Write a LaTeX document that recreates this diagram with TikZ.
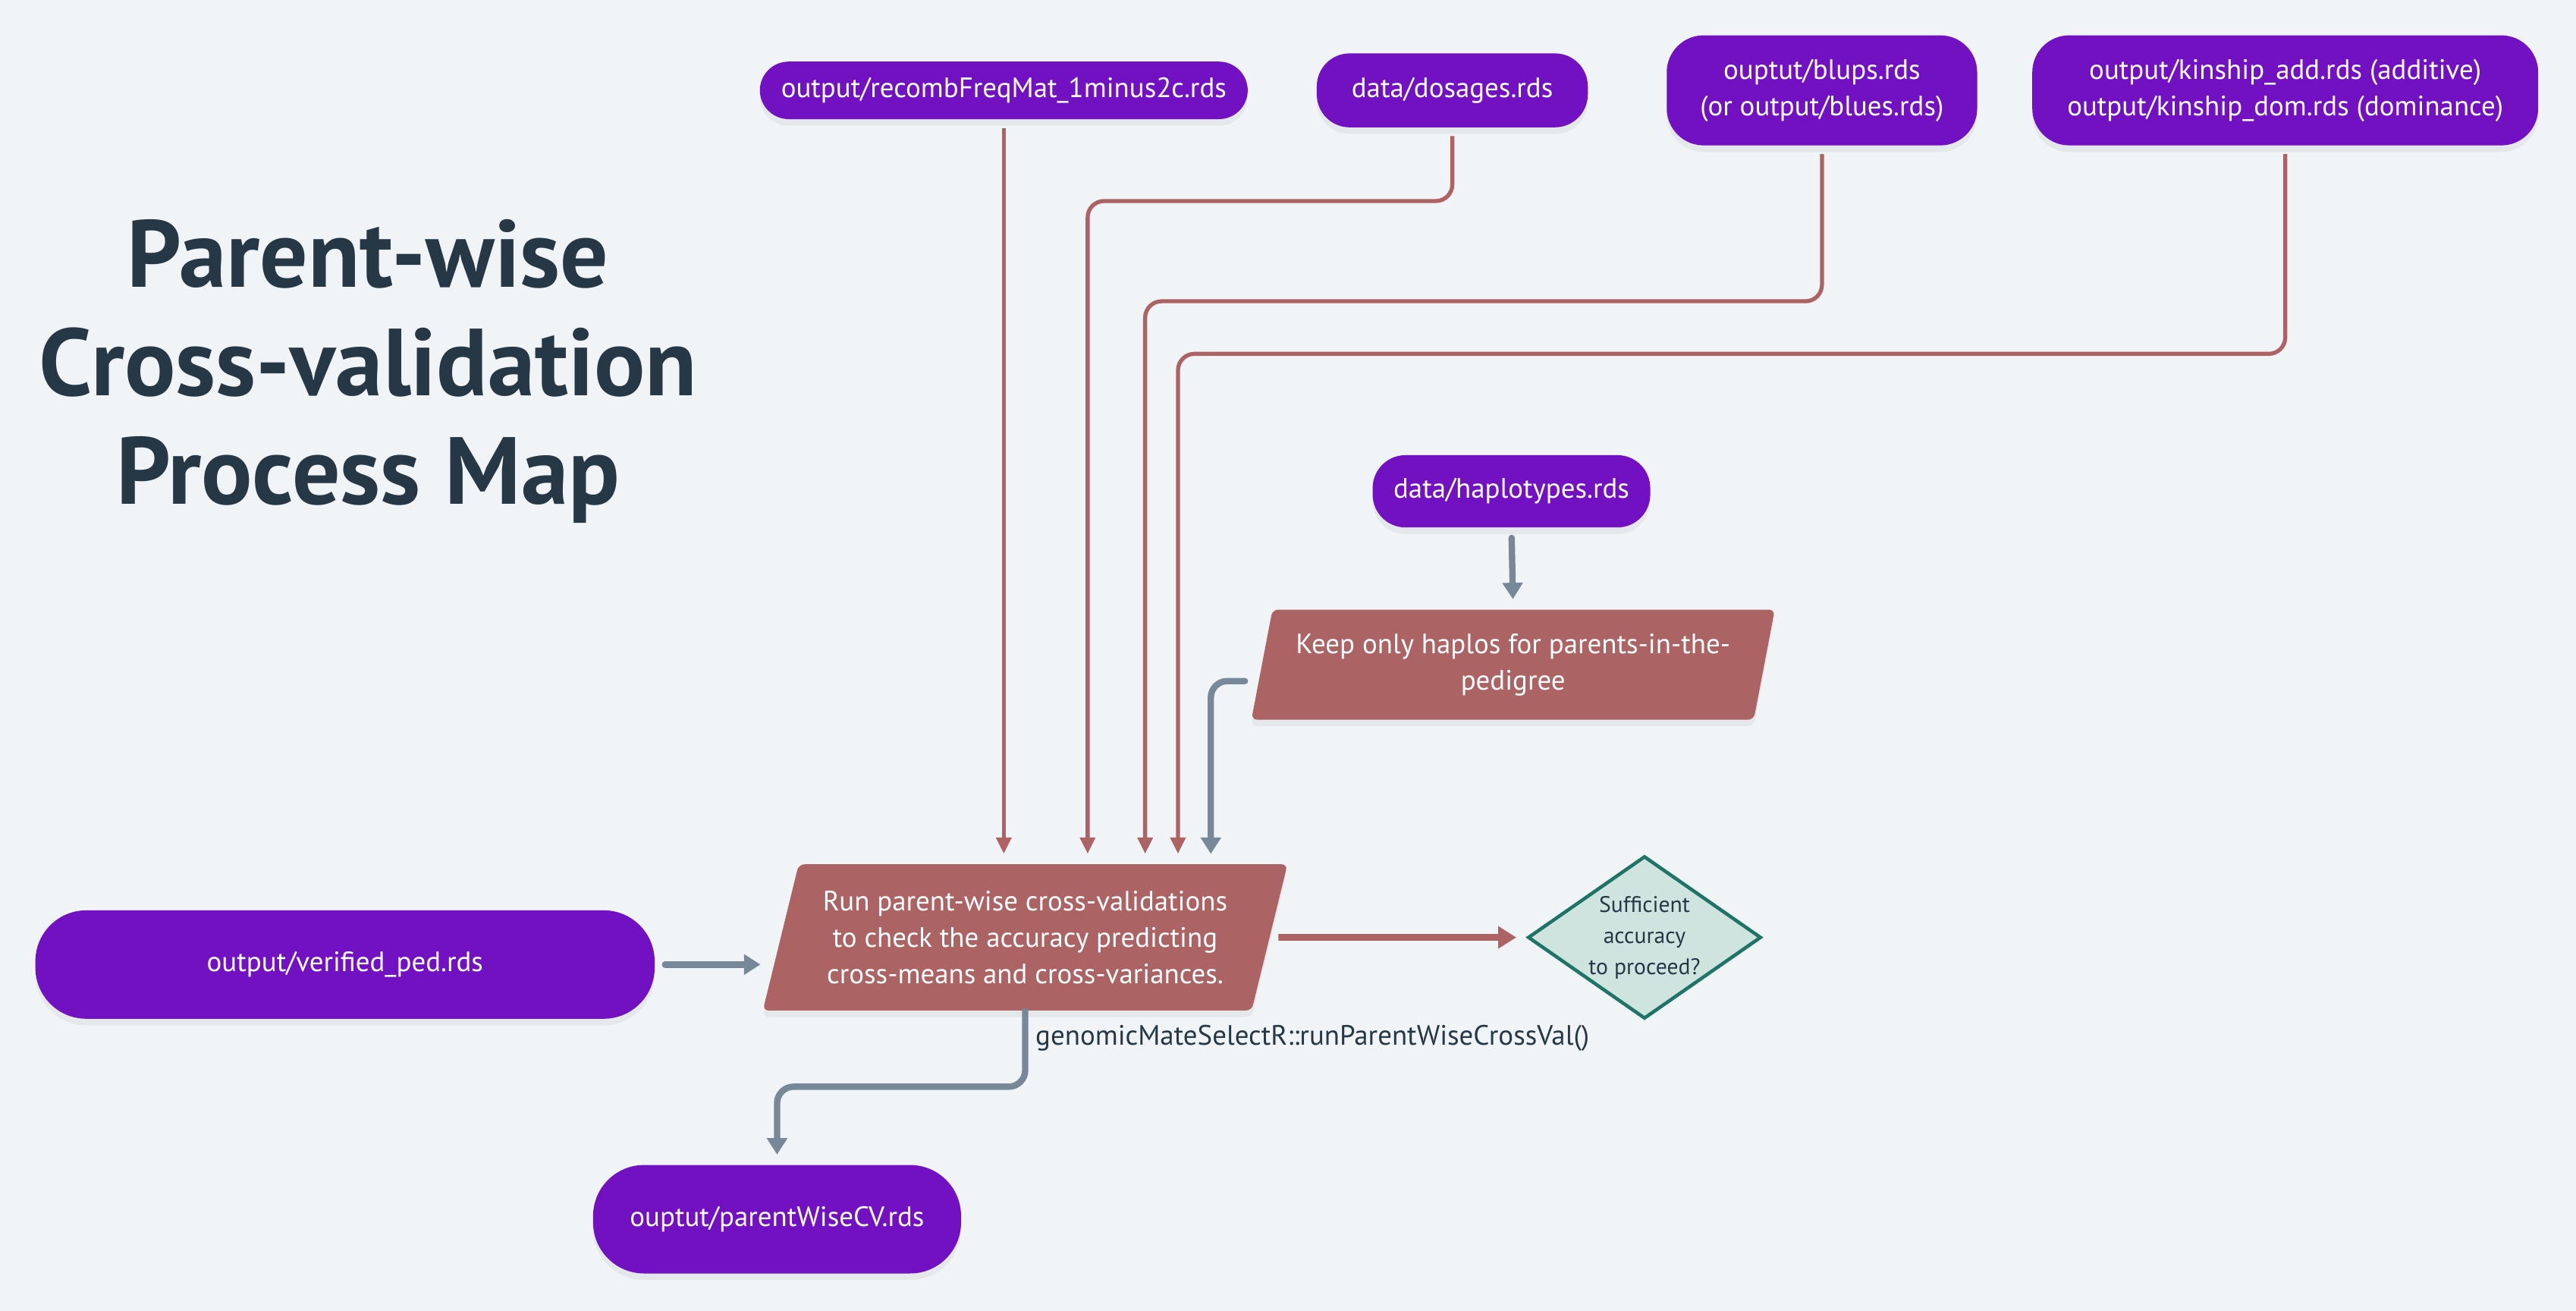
\documentclass[tikz,border=0pt]{standalone}
\usepackage{fontspec}
\setmainfont{PT Sans}
\usetikzlibrary{shapes.geometric,arrows.meta,shadows,calc}
\definecolor{bgcol}{HTML}{F0F4F7}
\definecolor{pillcol}{HTML}{7211C2}
\definecolor{boxcol}{HTML}{AC6363}
\definecolor{redcol}{HTML}{AD6364}
\definecolor{greycol}{HTML}{778899}
\definecolor{inkcol}{HTML}{263746}
\definecolor{diafill}{HTML}{D0E4DF}
\definecolor{diadraw}{HTML}{1F7565}
\tikzset{
  pill/.style = {rectangle, rounded corners=#1, fill=pillcol, text=white,
                 align=center, inner sep=0pt, font=\fontsize{9.7}{12.6}\selectfont,
                 drop shadow={shadow xshift=0pt, shadow yshift=-0.08cm, opacity=0.1}},
  pill/.default = 0.35cm,
  slantbox/.style = {trapezium, trapezium stretches=true, fill=boxcol, text=white,
                 align=center, inner sep=0pt, rounded corners=2pt,
                 font=\fontsize{9.7}{12.6}\selectfont,
                 drop shadow={shadow xshift=0pt, shadow yshift=-0.08cm, opacity=0.1}},
  redline/.style = {draw=redcol, line width=1.4pt, rounded corners=0.2cm,
                 -{Triangle[length=0.2cm, width=0.18cm]}, shorten <=0.1cm, shorten >=0.12cm},
  greyline/.style = {draw=greycol, line width=2.2pt, rounded corners=0.2cm, line cap=round,
                 -{Triangle[length=0.2cm, width=0.24cm]}, shorten <=0.12cm, shorten >=0.12cm}
}

\begin{document}
\begin{tikzpicture}[x=0.02cm, y=-0.02cm]
	\fill[bgcol] (0,0) rectangle (1568,797.85);

	% Title
	\node[text=inkcol, align=center, font=\fontsize{33}{37.5}\selectfont\bfseries] (title) at (224,226)
		{Parent-wise\\Cross-validation\\Process Map};

	% Inputs
	\node[pill=0.35cm, minimum width=5.94cm, minimum height=0.70cm] (rec) at (611,55) {output/recombFreqMat\_1minus2c.rds};
	\node[pill=0.40cm, minimum width=3.30cm, minimum height=0.90cm] (dos) at (884,55) {data/dosages.rds};
	\node[pill=0.45cm, minimum width=3.78cm, minimum height=1.34cm] (blup) at (1109,55) {ouptut/blups.rds\\(or output/blues.rds)};
	\node[pill=0.45cm, minimum width=6.16cm, minimum height=1.34cm] (kin) at (1391,55) {output/kinship\_add.rds (additive)\\output/kinship\_dom.rds (dominance)};
	\node[pill=0.40cm, minimum width=3.38cm, minimum height=0.88cm] (hap) at (920,299) {data/haplotypes.rds};
	\node[pill=0.62cm, minimum width=7.54cm, minimum height=1.32cm] (ped) at (210,587) {output/verified\_ped.rds};

	% Process steps
	\node[slantbox, trapezium left angle=73, trapezium right angle=107,
		minimum width=6.38cm, minimum height=1.34cm] (keep) at (921,404.5)
		{Keep only haplos for parents-in-the-\\pedigree};
	\node[slantbox, trapezium left angle=71, trapezium right angle=109,
		minimum width=6.40cm, minimum height=1.78cm] (run) at (624,570.5)
		{Run parent-wise cross-validations\\to check the accuracy predicting\\cross-means and cross-variances.};
	\node[diamond, aspect=1.45, fill=diafill, draw=diadraw, line width=1.2pt, inner sep=0pt, align=center,
		minimum width=2.84cm, minimum height=1.98cm, text=inkcol,
		font=\fontsize{7.8}{10.8}\selectfont] (dia) at (1001,570.5) {Sufficient\\accuracy\\to proceed?};
	\node[text=inkcol, anchor=west, inner sep=0pt, font=\fontsize{9.7}{12}\selectfont] (fn) at (630,632)
		{genomicMateSelectR::runParentWiseCrossVal()};

	% Output
	\node[pill=0.62cm, minimum width=4.48cm, minimum height=1.32cm] (cv) at (473,742) {ouptut/parentWiseCV.rds};

	% Red connectors
	\draw[redline] (rec.south) -- (rec.south |- run.north);
	\draw[redline] (dos.south) -- ++(0,44.5) -| ($(run.north)+(38,0)$);
	\draw[redline] (blup.south) -- ++(0,94.5) -| ($(run.north)+(73,0)$);
	\draw[redline] (kin.south) -- ++(0,126.5) -| ($(run.north)+(93,0)$);
	\draw[redline, line width=2.3pt, -{Triangle[length=0.22cm, width=0.26cm]}] (run.east) -- (dia.west);

	% Grey connectors
	\draw[greyline] (hap.south) -- (keep.north);
	\draw[greyline] ($(keep.west)+(-4,10)$) -| ($(run.north)+(113,0)$);
	\draw[greyline, shorten >=0.24cm] (ped.east) -- (ped.east -| run.west);
	\draw[greyline, shorten <=0pt] (run.south) -- ++(0,46) -| (cv.north);
\end{tikzpicture}
\end{document}
